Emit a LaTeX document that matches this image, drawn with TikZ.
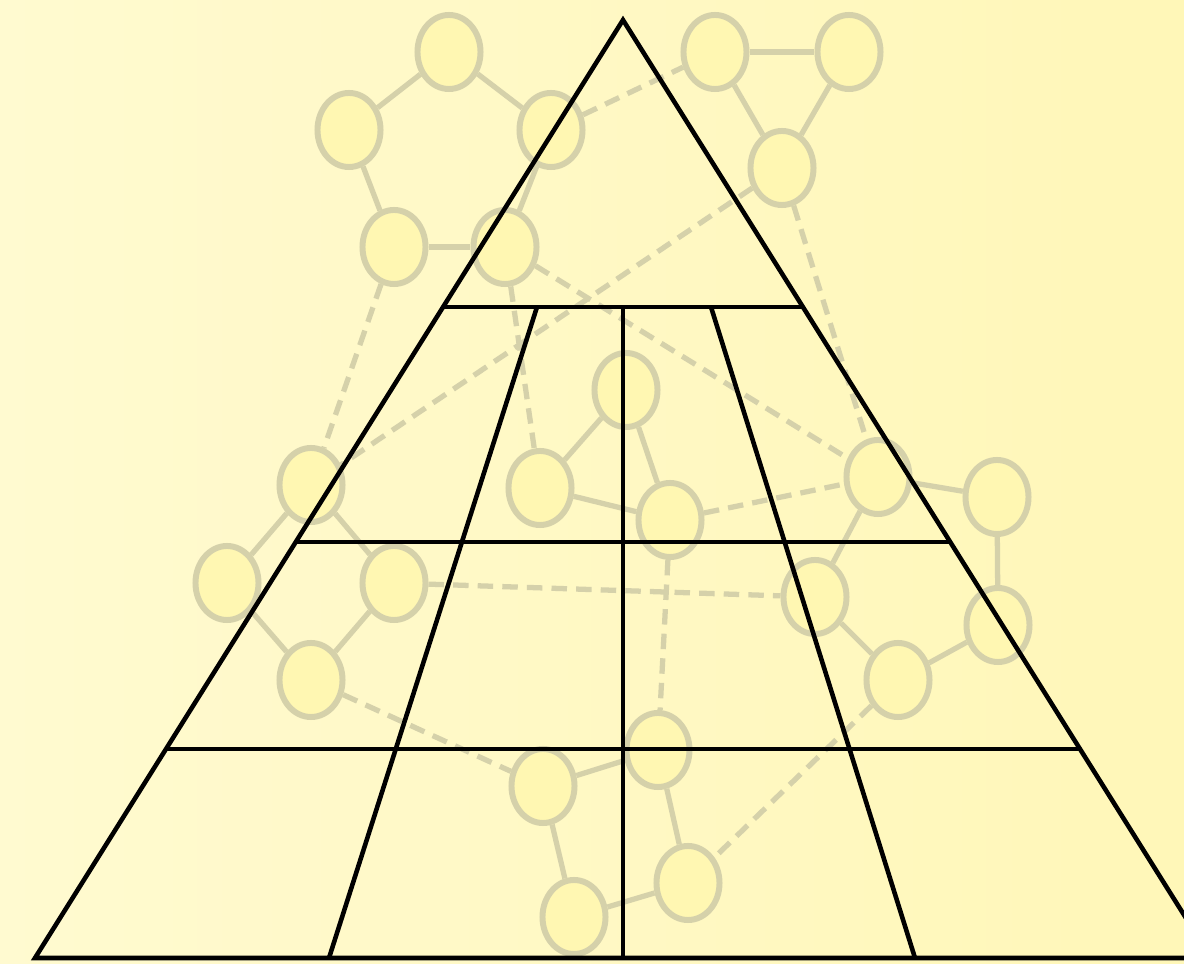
\documentclass[tikz,border=0pt]{standalone}
\usepackage{tikz}
\usetikzlibrary{shapes.geometric,calc}

\definecolor{bgleft}{RGB}{255,250,208}
\definecolor{bgright}{RGB}{255,247,184}
\definecolor{atomfill}{RGB}{255,247,178}
\definecolor{atomline}{RGB}{213,209,170}

\begin{document}
\begin{tikzpicture}[
    x=0.01cm, y=-0.01cm,
    atom/.style={
        ellipse, draw=atomline, line width=1.7pt,
        fill=atomfill, minimum width=0.63cm, minimum height=0.74cm,
        inner sep=0pt
    },
    bond/.style={draw=atomline, line width=1.5pt},
    weakbond/.style={bond, dash pattern=on 4.4pt off 2.6pt},
    pyr/.style={line width=1.3pt, black, line join=miter}
]
    % background
    \useasboundingbox (0,0) rectangle (1184,964);
    \shade[left color=bgleft, right color=bgright] (0,0) rectangle (1184,964);

    % network behind the pyramid
    \node[atom] (n1) at (449,52) {};
    \node[atom] (n2) at (349,130) {};
    \node[atom] (n3) at (551,130) {};
    \node[atom] (n4) at (394,247) {};
    \node[atom] (n5) at (505,247) {};
    \node[atom] (n6) at (715,52) {};
    \node[atom] (n7) at (849,52) {};
    \node[atom] (n8) at (782,168) {};
    \node[atom] (n9) at (626,390) {};
    \node[atom] (n10) at (311,485) {};
    \node[atom] (n11) at (540,488) {};
    \node[atom] (n12) at (670,520) {};
    \node[atom] (n13) at (878,477) {};
    \node[atom] (n14) at (997,497) {};
    \node[atom] (n15) at (227,583) {};
    \node[atom] (n16) at (394,583) {};
    \node[atom] (n17) at (815,597) {};
    \node[atom] (n18) at (998,625) {};
    \node[atom] (n19) at (311,680) {};
    \node[atom] (n20) at (898,680) {};
    \node[atom] (n21) at (658,750) {};
    \node[atom] (n22) at (543,786) {};
    \node[atom] (n23) at (688,883) {};
    \node[atom] (n24) at (574,917) {};

    \draw[bond] (n1) -- (n2);
    \draw[bond] (n1) -- (n3);
    \draw[bond] (n2) -- (n4);
    \draw[bond] (n4) -- (n5);
    \draw[bond] (n3) -- (n5);
    \draw[bond] (n6) -- (n7);
    \draw[bond] (n6) -- (n8);
    \draw[bond] (n7) -- (n8);
    \draw[bond] (n9) -- (n11);
    \draw[bond] (n9) -- (n12);
    \draw[bond] (n11) -- (n12);
    \draw[bond] (n13) -- (n14);
    \draw[bond] (n14) -- (n18);
    \draw[bond] (n13) -- (n17);
    \draw[bond] (n10) -- (n15);
    \draw[bond] (n10) -- (n16);
    \draw[bond] (n15) -- (n19);
    \draw[bond] (n16) -- (n19);
    \draw[bond] (n17) -- (n20);
    \draw[bond] (n20) -- (n18);
    \draw[bond] (n22) -- (n21);
    \draw[bond] (n22) -- (n24);
    \draw[bond] (n21) -- (n23);
    \draw[bond] (n24) -- (n23);

    \draw[weakbond] (n3) -- (n6);
    \draw[weakbond] (n8) -- (n10);
    \draw[weakbond] (n5) -- (n13);
    \draw[weakbond] (n4) -- (n10);
    \draw[weakbond] (n5) -- (n11);
    \draw[weakbond] (n8) -- (n13);
    \draw[weakbond] (n12) -- (n13);
    \draw[weakbond] (n16) -- (n17);
    \draw[weakbond] (n12) -- (n21);
    \draw[weakbond] (n19) -- (n22);
    \draw[weakbond] (n20) -- (n23);

    % pyramid
    \coordinate (top) at (623,20);
    \coordinate (bl) at (35,958);
    \coordinate (br) at (1211,958);
    \draw[pyr] (bl) -- (top) -- (br) -- cycle;
    \draw[pyr] ($(top)!0.306!(bl)$) -- ($(top)!0.306!(br)$);
    \draw[pyr] ($(top)!0.5565!(bl)$) -- ($(top)!0.5565!(br)$);
    \draw[pyr] ($(top)!0.7772!(bl)$) -- ($(top)!0.7772!(br)$);
    \draw[pyr] (623,307) -- (623,958);
    \draw[pyr] (537,307) -- (329,958);
    \draw[pyr] (711,307) -- (915,958);
\end{tikzpicture}
\end{document}
